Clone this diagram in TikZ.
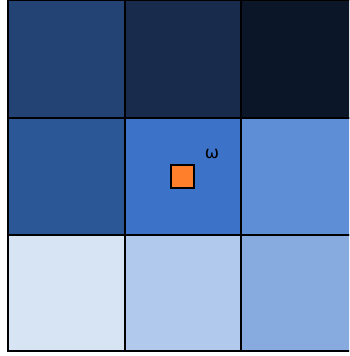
\documentclass[tikz,border=0pt]{standalone}
\usepackage{fontspec}
\newfontfamily\labelfont{DejaVu Sans}
\definecolor{cA}{HTML}{224374}
\definecolor{cB}{HTML}{182B4D}
\definecolor{cC}{HTML}{0C1629}
\definecolor{cD}{HTML}{2B5797}
\definecolor{cE}{HTML}{3C73C9}
\definecolor{cF}{HTML}{5E8ED6}
\definecolor{cG}{HTML}{D7E4F4}
\definecolor{cH}{HTML}{B1C9ED}
\definecolor{cI}{HTML}{87AADF}
\definecolor{sq}{HTML}{FF7F2A}
\tikzset{cell/.style={draw=black,line width=2pt},
  marker/.style={draw=black,fill=sq,line width=1.5pt,minimum size=23pt,inner sep=0pt},
  lbl/.style={font=\labelfont\fontsize{17pt}{17pt}\selectfont,inner sep=0pt}}
\begin{document}
\begin{tikzpicture}[x=1pt,y=-1pt]
\useasboundingbox (0,0) rectangle (349,356);
\clip (0,0) rectangle (349,356);
\foreach \c [count=\i from 0] in {cA,cB,cC}{
  \filldraw[cell,fill=\c] (8+116.5*\i,0) rectangle (124.5+116.5*\i,118);}
\foreach \c [count=\i from 0] in {cD,cE,cF}{
  \filldraw[cell,fill=\c] (8+116.5*\i,118) rectangle (124.5+116.5*\i,234.5);}
\foreach \c [count=\i from 0] in {cG,cH,cI}{
  \filldraw[cell,fill=\c] (8+116.5*\i,234.5) rectangle (124.5+116.5*\i,351);}
\node[marker] (m) at (182.5,176.5) {};
\node[lbl] (w) at (212,154) {ω};
\end{tikzpicture}
\end{document}
